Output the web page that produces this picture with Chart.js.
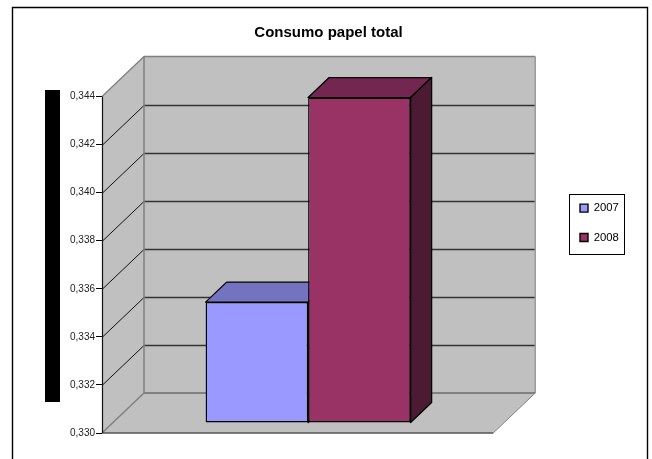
<!DOCTYPE html>
<html><head><meta charset="utf-8">
<style>html,body{margin:0;padding:0;background:#fff}#w{width:652px;height:459px}</style>
<script src="https://cdn.jsdelivr.net/npm/chart.js@4"></script></head>
<body><div id="w"><canvas id="c" width="652" height="459"></canvas></div>
<script>
const chartTitle = "Consumo papel total";
const categories = [""];
const seriesNames = ["2007", "2008"];
const values2007 = [0.33503];
const values2008 = [0.34354];
const axisMin = 0.330, axisMax = 0.344, axisStep = 0.002;
const fills = ["#9999FF", "#993366"];
const tops = ["#7373BF", "#732650"];
const sides = ["#4D4D80", "#4D1A33"];
const DX = 42, DY = 40, BDX = 21, BDY = 20, BASE_X = 10.5, BASE_Y = 10;
const FONT = "'Liberation Sans'";

function poly(ctx, pts, fill, stroke, lw) {
  ctx.beginPath();
  pts.forEach((p, i) => i ? ctx.lineTo(p[0], p[1]) : ctx.moveTo(p[0], p[1]));
  ctx.closePath();
  if (fill) { ctx.fillStyle = fill; ctx.fill(); }
  if (stroke) { ctx.strokeStyle = stroke; ctx.lineWidth = lw; ctx.lineJoin = "round"; ctx.stroke(); }
}
function seg(ctx, x0, y0, x1, y1, color, lw) {
  ctx.beginPath(); ctx.moveTo(x0, y0); ctx.lineTo(x1, y1);
  ctx.strokeStyle = color; ctx.lineWidth = lw; ctx.stroke();
}
const scene = {
  id: "scene",
  afterLayout(chart) {
    const l = chart.legend;
    l.left = 562; l.top = 184.5; l.right = 640; l.bottom = 270; l.width = 78; l.height = 85.5;
    const t = chart.titleBlock;
    t.left = 5; t.right = 652; t.width = 647;
  },
  beforeDraw(chart) {
    const c = chart.ctx;
    c.save();
    c.beginPath(); c.moveTo(12.5, 459); c.lineTo(12.5, 7.5); c.lineTo(647.5, 7.5); c.lineTo(647.5, 459);
    c.strokeStyle = "#000"; c.lineWidth = 1.4; c.stroke();
    c.fillStyle = "#000"; c.fillRect(45, 90, 15, 312);
    c.fillStyle = "#fff"; c.fillRect(569.5, 194.5, 55, 60);
    c.strokeStyle = "#000"; c.lineWidth = 1; c.strokeRect(569.5, 194.5, 55, 60);
    c.restore();
  },
  beforeDatasetsDraw(chart) {
    const c = chart.ctx, a = chart.chartArea, y = chart.scales.y;
    const L = a.left, R = a.right, T = a.top, B = a.bottom;
    c.save();
    poly(c, [[L + DX, T - DY], [R + DX, T - DY], [R + DX, B - DY], [L + DX, B - DY]], "#C0C0C0");
    poly(c, [[L, T], [L + DX, T - DY], [L + DX, B - DY], [L, B]], "#C0C0C0");
    poly(c, [[L, B], [L + DX, B - DY], [R + DX, B - DY], [R, B]], "#C0C0C0");
    y.ticks.forEach(t => {
      if (t.value <= axisMin + 1e-9 || t.value >= axisMax - 1e-9) return;
      const p = Math.round(y.getPixelForValue(t.value)) + 0.5;
      seg(c, L, p, L + DX, p - DY, "#111", 1);
      seg(c, L + DX, p - DY, R + DX, p - DY, "#333", 1.4);
    });
    seg(c, L, T, L + DX, T - DY, "#808080", 1.3);
    seg(c, L + DX, T - DY, R + DX, T - DY, "#808080", 1.5);
    seg(c, R + DX, T - DY, R + DX, B - DY, "#999", 1.5);
    seg(c, L + DX, T - DY, L + DX, B - DY, "#808080", 1.5);
    seg(c, L + DX, B - DY, R + DX, B - DY, "#808080", 2);
    seg(c, L, B, L + DX, B - DY, "#808080", 1.5);
    seg(c, R, B, R + DX, B - DY, "#808080", 1);
    seg(c, L, B, R, B, "#555", 1.5);
    seg(c, L + 0.5, T, L + 0.5, B, "#111", 1.2);
    c.translate(BASE_X, -BASE_Y);
    chart.data.datasets.forEach((d, i) => {
      const el = chart.getDatasetMeta(i).data[0];
      const l = el.x - el.width / 2, r = el.x + el.width / 2, t = el.y, b = el.base;
      poly(c, [[l, t], [l + BDX, t - BDY], [r + BDX, t - BDY], [r, t]], tops[i], "#000", 1.3);
      poly(c, [[r, t], [r + BDX, t - BDY], [r + BDX, b - BDY], [r, b]], sides[i], "#000", 1.3);
    });
    c.restore();
  },
  beforeDatasetDraw(chart) {
    chart.ctx.save();
    chart.ctx.translate(BASE_X, -BASE_Y);
  },
  afterDatasetDraw(chart) {
    chart.ctx.restore();
  }
};
new Chart(document.getElementById("c"), {
  type: "bar",
  data: {
    labels: categories,
    datasets: [
      { label: seriesNames[0], data: values2007, base: axisMin, backgroundColor: fills[0], borderColor: "#000", borderWidth: 1.4, borderSkipped: false, clip: false },
      { label: seriesNames[1], data: values2008, base: axisMin, backgroundColor: fills[1], borderColor: "#000", borderWidth: 1.4, borderSkipped: false, clip: false }
    ]
  },
  options: {
    responsive: false, animation: false, events: [],
    layout: { padding: { left: 5, right: 92, top: 10, bottom: 26 } },
    datasets: { bar: { categoryPercentage: 0.524, barPercentage: 1, grouped: true } },
    scales: {
      x: { display: false },
      y: {
        min: axisMin, max: axisMax,
        afterFit(s) { s.width = 97; },
        border: { display: false },
        grid: { drawOnChartArea: false, drawTicks: true, tickLength: 6, tickColor: "#000", tickWidth: 1 },
        ticks: {
          stepSize: axisStep, padding: 1, color: "#222",
          font: { family: FONT, size: 10 },
          callback: v => v.toFixed(3).replace(".", ",")
        }
      }
    },
    plugins: {
      title: {
        display: true, text: chartTitle, color: "#000",
        font: { family: FONT, size: 15, weight: "bold" },
        padding: { top: 13.5, bottom: 55 }
      },
      legend: {
        display: true, position: "right", align: "start",
        labels: {
          boxWidth: 8, boxHeight: 8, padding: 18, color: "#000",
          font: { family: FONT, size: 11.3 }
        }
      },
      tooltip: { enabled: false }
    }
  },
  plugins: [scene]
});
</script></body></html>
